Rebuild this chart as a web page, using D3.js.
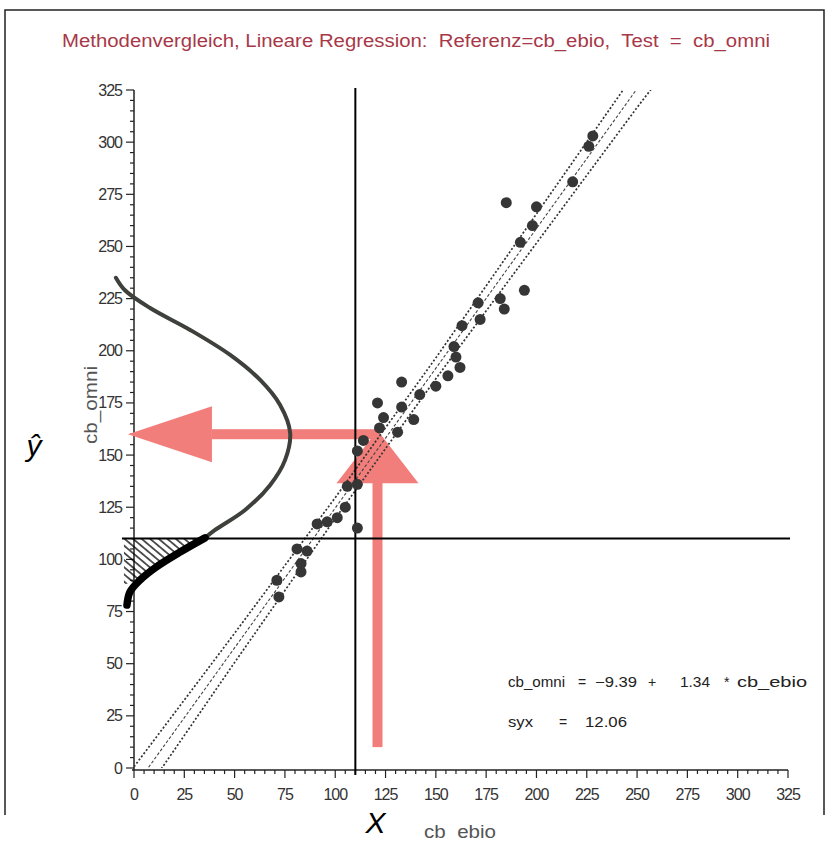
<!DOCTYPE html>
<html>
<head>
<meta charset="utf-8">
<style>
  body { margin: 0; background: #fff; }
  svg { display: block; }
  .tick-label { font: 16px "Liberation Sans", Arial, sans-serif; fill: #333; letter-spacing: -1px; }
  .axis-title { font: 18px "Liberation Sans", Arial, sans-serif; fill: #555; }
  .stat { font: 14px "Liberation Sans", Arial, sans-serif; fill: #222; }
</style>
<script src="https://d3js.org/d3.v7.min.js"></script>
</head>
<body>
<script>
// method comparison: reference cb_ebio (x) vs test cb_omni (y)
var refX  = [228, 226, 218, 185, 200, 198, 192, 194, 182, 184, 171, 172, 163, 159, 160, 162, 156, 150, 142, 133, 133, 139, 124, 131, 121, 122, 114, 111, 111, 106, 105, 101, 96, 91, 111, 81, 86, 83, 83, 71, 72];
var testY = [303, 298, 281, 271, 269, 260, 252, 229, 225, 220, 223, 215, 212, 202, 197, 192, 188, 183, 179, 185, 173, 167, 168, 161, 175, 163, 157, 152, 136, 135, 125, 120, 118, 117, 115, 105, 104, 98, 94, 90, 82];

var fitIntercept = -9.39, fitSlope = 1.34, syx = 12.06;

// band lines
var bandX     = [0, 50, 100, 150, 200, 250, 275];
var bandUpper = [0.6, 64.6, 129.6, 196.6, 265.6, 334.6, 370];
var bandLower = [-19.4, 50.6, 119.6, 186.6, 251.6, 316.6, 348];

// hand drawn distribution of y-hat (x = height, y = cb_omni)
var curveX = [-9, -4.5, 8, 27.9, 47.8, 62.7, 72.6, 77.6, 75.1, 67.7, 55.2, 40.3, 35.3, 22.9, 10.4, 3, -2, -3.5];
var curveY = [235, 229, 220.5, 210, 198, 186, 174, 160.6, 147.7, 135.7, 123.7, 114.1, 110.3, 103.5, 95.9, 90.1, 84.4, 78.1];

var cutX = 110, cutY = 110;
var arrowX = 121, arrowBaseY = 10, arrowY = 160, arrowTipX = -3;

var axisTicks = d3.range(0, 326, 25);
var minorTicks = d3.range(0, 326, 5);

var W = 830, H = 841;
var svg = d3.select("body").append("svg").attr("width", W).attr("height", H);

var x = d3.scaleLinear().domain([0, 325]).range([134, 788]);
var y = d3.scaleLinear().domain([0, 325]).range([768, 90]);

// frame
svg.append("path")
  .attr("d", "M5,815V10H824V815")
  .attr("fill", "none").attr("stroke", "#222").attr("stroke-width", 1.5);

// title
svg.append("text")
  .attr("x", 62).attr("y", 47)
  .attr("textLength", 708).attr("lengthAdjust", "spacingAndGlyphs")
  .attr("xml:space", "preserve")
  .style("font", "17.5px 'Liberation Sans Narrow', 'Liberation Sans', Arial, sans-serif")
  .style("fill", "#a83848")
  .text("Methodenvergleich, Lineare Regression:  Referenz=cb_ebio,  Test  =  cb_omni");

var defs = svg.append("defs");
defs.append("clipPath").attr("id", "plotclip")
  .append("rect").attr("x", x(0)).attr("y", y(325))
  .attr("width", x(325) - x(0)).attr("height", y(0) - y(325));

var hatch = defs.append("pattern").attr("id", "hatch")
  .attr("patternUnits", "userSpaceOnUse")
  .attr("width", 5.5).attr("height", 5.5)
  .attr("patternTransform", "rotate(40)");
hatch.append("path").attr("d", "M0,2.75H5.5").attr("stroke", "#000").attr("stroke-width", 1.3);

// axes
var yAxis = svg.append("g");
yAxis.append("line").attr("x1", x(0)).attr("x2", x(0)).attr("y1", y(325)).attr("y2", y(0) + 2)
  .attr("stroke", "#222").attr("stroke-width", 1.5);
yAxis.selectAll(".minor").data(minorTicks).enter().append("line")
  .attr("x1", x(0)).attr("x2", function(d) { return x(0) - (d % 25 === 0 ? 8 : 4); })
  .attr("y1", function(d) { return y(d); }).attr("y2", function(d) { return y(d); })
  .attr("stroke", "#222").attr("stroke-width", 1.2);
yAxis.selectAll("text").data(axisTicks).enter().append("text")
  .attr("class", "tick-label")
  .attr("x", x(0) - 12).attr("y", function(d) { return y(d) + 5.5; })
  .attr("text-anchor", "end")
  .text(function(d) { return d; });

var xAxis = svg.append("g");
xAxis.append("line").attr("x1", x(0) - 2).attr("x2", x(325)).attr("y1", y(0) + 2).attr("y2", y(0) + 2)
  .attr("stroke", "#222").attr("stroke-width", 1.5);
xAxis.selectAll(".minor").data(minorTicks).enter().append("line")
  .attr("x1", function(d) { return x(d); }).attr("x2", function(d) { return x(d); })
  .attr("y1", y(0) + 2).attr("y2", function(d) { return y(0) + 2 + (d % 25 === 0 ? 8 : 4); })
  .attr("stroke", "#222").attr("stroke-width", 1.2);
xAxis.selectAll("text").data(axisTicks).enter().append("text")
  .attr("class", "tick-label")
  .attr("x", function(d) { return x(d); }).attr("y", 800)
  .attr("text-anchor", "middle")
  .text(function(d) { return d; });

svg.append("text").attr("class", "axis-title")
  .attr("transform", "translate(97,405)rotate(-90)")
  .attr("text-anchor", "middle")
  .attr("textLength", 78).attr("lengthAdjust", "spacingAndGlyphs")
  .text("cb_omni");
svg.append("text").attr("class", "axis-title")
  .attr("x", 424).attr("y", 838)
  .attr("textLength", 72).attr("lengthAdjust", "spacingAndGlyphs")
  .text("cb_ebio");

svg.append("text")
  .attr("x", 34).attr("y", 456).attr("text-anchor", "middle")
  .style("font", "italic 30px 'Liberation Sans', Arial, sans-serif")
  .text("ŷ");
svg.append("text")
  .attr("x", x(120)).attr("y", 833).attr("text-anchor", "middle")
  .style("font", "italic 30px 'Liberation Sans', Arial, sans-serif")
  .text("X");

// red arrows
var red = "#f27e7b";
var hx = x(arrowX), hy = y(arrowY);
svg.append("rect").attr("x", hx - 5).attr("width", 10).attr("fill", red)
  .attr("y", hy + 48).attr("height", y(arrowBaseY) - hy - 48);
svg.append("path").attr("fill", red)
  .attr("d", "M" + hx + "," + (hy - 4) + "L" + (hx + 41) + "," + (hy + 49) + "L" + (hx - 41) + "," + (hy + 49) + "Z");
svg.append("rect").attr("x", x(arrowTipX) + 84).attr("y", hy - 5)
  .attr("width", hx + 2 - x(arrowTipX) - 84).attr("height", 10).attr("fill", red);
svg.append("path").attr("fill", red)
  .attr("d", "M" + x(arrowTipX) + "," + hy + "L" + (x(arrowTipX) + 84) + "," + (hy - 28) + "L" + (x(arrowTipX) + 84) + "," + (hy + 28) + "Z");

// hatched tail below the cut
var curvePts = curveX.map(function(d, i) { return [d, curveY[i]]; });
var tail = curvePts.filter(function(p) { return p[1] <= 110.3 && p[1] >= 88; });
var hatchPoly = [[-5, cutY]].concat(tail).concat([[-5, 88]]);
svg.append("path")
  .attr("d", d3.line().x(function(p) { return x(p[0]); }).y(function(p) { return y(p[1]); })(hatchPoly) + "Z")
  .attr("fill", "url(#hatch)");

// distribution curve
var curveLine = d3.line().curve(d3.curveCatmullRom)
  .x(function(p) { return x(p[0]); }).y(function(p) { return y(p[1]); });
svg.append("path").attr("d", curveLine(curvePts.filter(function(p) { return p[1] >= 110; })))
  .attr("fill", "none").attr("stroke", "#3d403b").attr("stroke-width", 4).attr("stroke-linecap", "round");
svg.append("path").attr("d", curveLine(curvePts.filter(function(p) { return p[1] <= 110.3; })))
  .attr("fill", "none").attr("stroke", "#000").attr("stroke-width", 7.5).attr("stroke-linecap", "round");

// regression line and band
var plot = svg.append("g").attr("clip-path", "url(#plotclip)");
var bandLine = d3.line().x(function(d) { return x(d[0]); }).y(function(d) { return y(d[1]); });
[bandUpper, bandLower].forEach(function(vals) {
  plot.append("path")
    .attr("d", bandLine(bandX.map(function(d, i) { return [d, vals[i]]; })))
    .attr("fill", "none").attr("stroke", "#333").attr("stroke-width", 1.7)
    .attr("stroke-dasharray", "2,2");
});
plot.append("path")
  .attr("d", bandLine([[0, fitIntercept], [325, fitIntercept + fitSlope * 325]]))
  .attr("fill", "none").attr("stroke", "#444").attr("stroke-width", 1.1)
  .attr("stroke-dasharray", "3,2");

// cut lines
svg.append("line").attr("x1", x(cutX)).attr("x2", x(cutX)).attr("y1", y(325) - 2).attr("y2", y(0) + 7)
  .attr("stroke", "#000").attr("stroke-width", 2);
svg.append("line").attr("x1", x(-6)).attr("x2", x(326)).attr("y1", y(cutY)).attr("y2", y(cutY))
  .attr("stroke", "#000").attr("stroke-width", 2);

// points
svg.append("g").selectAll("circle")
  .data(refX.map(function(d, i) { return [d, testY[i]]; }))
  .enter().append("circle")
  .attr("cx", function(d) { return x(d[0]); })
  .attr("cy", function(d) { return y(d[1]); })
  .attr("r", 5.5)
  .attr("fill", "#363636");

// fit statistics
var eq = svg.append("text").attr("class", "stat").attr("y", 687);
[["cb_omni", 508, 57], ["=", 578, 0], ["\u2212" + Math.abs(fitIntercept).toFixed(2), 595, 42],
 ["+", 648, 0], [fitSlope.toFixed(2), 680, 30], ["*", 724, 0], ["cb_ebio", 737, 70]].forEach(function(p) {
  var t = eq.append("tspan").attr("x", p[1]).text(p[0]);
  if (p[2]) t.attr("textLength", p[2]).attr("lengthAdjust", "spacingAndGlyphs");
});
var sx = svg.append("text").attr("class", "stat").attr("y", 727);
[["syx", 508, 25], ["=", 559, 0], [syx.toFixed(2), 585, 42]].forEach(function(p) {
  var t = sx.append("tspan").attr("x", p[1]).text(p[0]);
  if (p[2]) t.attr("textLength", p[2]).attr("lengthAdjust", "spacingAndGlyphs");
});
</script>
</body>
</html>
